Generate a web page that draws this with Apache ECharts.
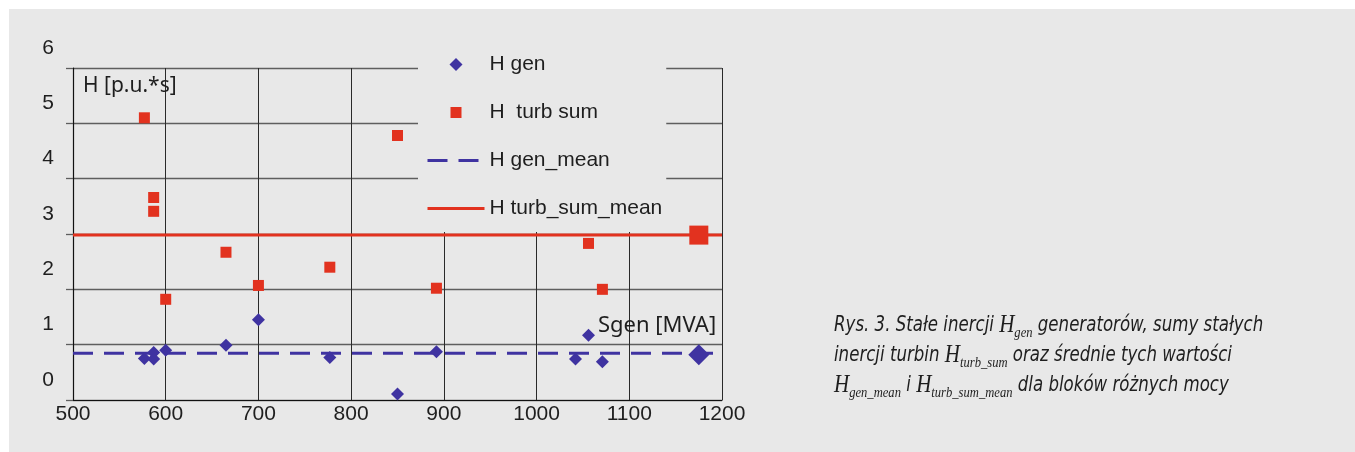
<!DOCTYPE html>
<html>
<head>
<meta charset="utf-8">
<script src="https://cdn.jsdelivr.net/npm/echarts@6/dist/echarts.min.js"></script>
<style>
  html, body { margin: 0; padding: 0; background: #ffffff; }
  #chart {
    width: 1355px; height: 452px;
    background: linear-gradient(#e8e8e8, #e8e8e8) 9px 9px / 1346px 443px no-repeat, #ffffff;
  }
</style>
</head>
<body>
<div id="chart"></div>
<script>
// Rated apparent power of each generating unit [MVA]
const sGen = [577, 587, 587, 600, 665, 700, 777, 850, 892, 1042, 1056, 1071, 1175];
// Generator inertia constant H_gen [p.u.*s]
const hGen = [0.75, 0.86, 0.74, 0.90, 0.99, 1.45, 0.77, 0.11, 0.87, 0.74, 1.17, 0.69, 0.82];
// Sum of turbine inertia constants H_turb_sum [p.u.*s] (null: no value)
const hTurbSum = [5.10, 3.66, 3.41, 1.82, 2.67, 2.07, 2.40, 4.78, 2.02, null, 2.83, 2.00, 2.98];
// Mean values
const hGenMean = 0.845;
const hTurbSumMean = 2.98;
// Axis ranges
const sRange = [500, 1200];
const hRange = [0, 6];

const seriesNames = ['H gen', 'H  turb sum', 'H gen_mean', 'H turb_sum_mean'];

const BLUE = '#3f33a1';
const RED = '#e2321f';
const INK = '#1e1e1e';
const PANEL = '#e8e8e8';
const SANS = 'Liberation Sans, Arial, sans-serif';

// Legend marker paths: the bare move-to points span the whole 57x13 icon box,
// so the marker itself keeps its proportions instead of being stretched.
const ICON_BOX = 'M0,0 M57,13 ';
const diamondIcon = 'path://' + ICON_BOX + 'M22,6.5 L28.5,0 L35,6.5 L28.5,13 Z';
const squareIcon = 'path://' + ICON_BOX + 'M23,1 L34,1 L34,12 L23,12 Z';

const lastIdx = sGen.length - 1;
const pointSize = (small, big) => (v, p) => (p.dataIndex === lastIdx ? big : small);

const chart = echarts.init(document.getElementById('chart'), null, { renderer: 'canvas' });

chart.setOption({
  animation: false,
  backgroundColor: 'transparent',
  grid: { left: 73, right: 633, top: 68, bottom: 52, containLabel: false },
  xAxis: {
    type: 'value',
    min: sRange[0], max: sRange[1], interval: 100,
    axisLine: { show: true, lineStyle: { color: '#111', width: 1.2 } },
    axisTick: { show: false },
    axisLabel: { color: INK, fontSize: 21, fontFamily: SANS, margin: 4, formatter: v => String(v) },
    splitLine: { show: true, lineStyle: { color: '#2a2a2a', width: 1 } }
  },
  yAxis: {
    type: 'value',
    min: hRange[0], max: hRange[1], interval: 1,
    axisLine: { show: true, lineStyle: { color: '#111', width: 1.2 } },
    axisTick: { show: true, length: 7, lineStyle: { color: '#5e5e5e', width: 1.3 } },
    axisLabel: {
      color: INK, fontSize: 21, fontFamily: SANS,
      margin: 19, verticalAlign: 'bottom', lineHeight: 40
    },
    splitLine: { show: true, lineStyle: { color: '#5e5e5e', width: 1.3 } }
  },
  legend: {
    data: [
      { name: seriesNames[0], icon: diamondIcon },
      { name: seriesNames[1], icon: squareIcon },
      { name: seriesNames[2], lineStyle: { width: 3 }, itemStyle: { color: 'transparent', borderWidth: 0, opacity: 0 } },
      { name: seriesNames[3], lineStyle: { width: 3 }, itemStyle: { color: 'transparent', borderWidth: 0, opacity: 0 } }
    ],
    orient: 'vertical',
    left: 418, top: 41,
    padding: [13, 4, 13, 8],
    itemWidth: 57, itemHeight: 13, itemGap: 27,
    backgroundColor: PANEL,
    selectedMode: false,
    textStyle: { color: INK, fontSize: 21, fontFamily: SANS }
  },
  series: [
    {
      name: seriesNames[0], type: 'scatter', z: 5,
      symbol: 'diamond', symbolSize: pointSize(13, 21),
      itemStyle: { color: BLUE, opacity: 1 },
      data: sGen.map((s, i) => [s, hGen[i]])
    },
    {
      name: seriesNames[1], type: 'scatter', z: 5,
      symbol: 'rect', symbolSize: pointSize(11, 19),
      itemStyle: { color: RED, opacity: 1 },
      data: sGen.map((s, i) => [s, hTurbSum[i]])
    },
    {
      name: seriesNames[2], type: 'line', z: 3,
      symbol: 'none', silent: true,
      lineStyle: { color: BLUE, width: 3, type: [20, 11] },
      itemStyle: { color: BLUE },
      data: [[sRange[0], hGenMean], [sRange[1], hGenMean]]
    },
    {
      name: seriesNames[3], type: 'line', z: 3,
      symbol: 'none', silent: true,
      lineStyle: { color: RED, width: 3 },
      itemStyle: { color: RED },
      data: [[sRange[0], hTurbSumMean], [sRange[1], hTurbSumMean]]
    }
  ],
  graphic: [
    {
      type: 'text', left: 83, top: 76, z: 10,
      style: { text: 'H [p.u.*s]', fill: INK, font: '21px "Noto Sans", "Open Sans", sans-serif' }
    },
    {
      type: 'text', left: 598, top: 315, z: 10,
      style: { text: 'Sgen [MVA]', fill: INK, font: '22px "Noto Sans", "Open Sans", sans-serif' }
    },
    {
      type: 'text', left: 834, top: 313, z: 10, scaleX: 0.84,
      style: {
        text: '{t|Rys. 3. Stałe inercji }{h|H}{s|gen}{t| generatorów, sumy stałych}\n' +
              '{t|inercji turbin }{h|H}{s|turb_sum}{t| oraz średnie tych wartości}\n' +
              '{h|H}{s|gen_mean}{t| i }{h|H}{s|turb_sum_mean}{t| dla bloków różnych mocy}',
        fill: INK,
        rich: {
          t: { fontSize: 22, fontStyle: 'italic', fontFamily: '"DejaVu Sans Condensed", "DejaVu Sans", sans-serif', lineHeight: 30, verticalAlign: 'middle', fill: INK },
          h: { fontSize: 25, fontStyle: 'italic', fontFamily: '"Liberation Serif", serif', lineHeight: 30, verticalAlign: 'middle', fill: INK },
          s: { fontSize: 15, fontStyle: 'italic', fontFamily: '"Liberation Serif", serif', lineHeight: 14, verticalAlign: 'bottom', fill: INK }
        }
      }
    }
  ]
});
</script>
</body>
</html>
